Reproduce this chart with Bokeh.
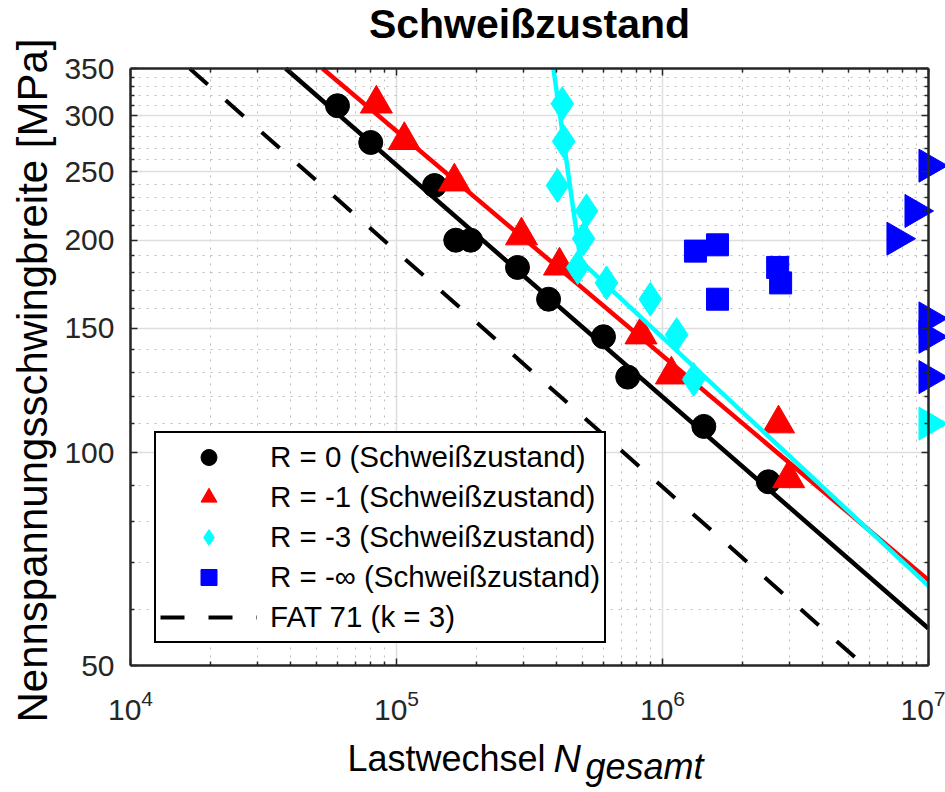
import math
from bokeh.plotting import figure
from bokeh.models import (Range1d, FixedTicker, LogAxis, PrintfTickFormatter, Label,
                          Legend, LegendItem, Grid)
from bokeh.embed import file_html
from bokeh.resources import INLINE

# ---------------- data ----------------
r0_N = [6.0e4, 8.0e4, 1.39e5, 1.67e5, 1.90e5, 2.85e5, 3.73e5, 6.0e5, 7.4e5, 1.43e6, 2.5e6]
r0_S = [310, 275, 239, 200, 200, 183, 165, 146, 128, 109, 91]

r1_N = [8.4e4, 1.07e5, 1.65e5, 2.95e5, 4.1e5, 8.3e5, 1.08e6, 2.73e6, 2.98e6]
r1_S = [312, 277, 242, 203, 184, 147, 129, 110, 92]

r3_N = [4.2e5, 4.25e5, 4.03e5, 5.18e5, 5.05e5, 4.8e5, 6.16e5, 9.0e5, 1.13e6, 1.31e6]
r3_S = [312, 276, 239, 220, 201, 183, 174, 165, 147, 127]
r3_runout_N = [1.0e7]
r3_runout_S = [110]

rinf_N = [1.33e6, 1.61e6, 2.71e6, 2.78e6, 1.61e6]
rinf_S = [193, 197, 183, 174, 165]
rinf_runout_N = [1.0e7, 8.86e6, 7.58e6, 1.0e7, 1.0e7, 1.0e7]
rinf_runout_S = [255, 220, 201, 155, 146, 128]

fit_r0_N = [3.83e4, 1.0e7]
fit_r0_S = [350, 56.4]
fit_r1_N = [5.27e4, 1.0e7]
fit_r1_S = [350, 66.0]
fit_r3_N = [3.89e5, 4.92e5, 1.0e7]
fit_r3_S = [350, 187, 64.8]
fat_N = [1.67e4, 5.73e6]
fat_S = [350, 50]

x_lim = (1e4, 1e7)
y_lim = (50, 350)
x_major = [1e4, 1e5, 1e6, 1e7]
x_minor = [2e4, 3e4, 4e4, 5e4, 6e4, 7e4, 8e4, 9e4,
           2e5, 3e5, 4e5, 5e5, 6e5, 7e5, 8e5, 9e5,
           2e6, 3e6, 4e6, 5e6, 6e6, 7e6, 8e6, 9e6]
y_major = [50, 100, 150, 200, 250, 300, 350]
y_minor = [60, 70, 80, 90, 110, 120, 130, 140, 160, 170, 180, 190,
           210, 220, 230, 240, 260, 270, 280, 290, 310, 320, 330, 340]

legend_labels = ["R = 0 (Schweißzustand)", "R = -1 (Schweißzustand)",
                 "R = -3 (Schweißzustand)", "R = -∞ (Schweißzustand)", "FAT 71 (k = 3)"]

FONT = "Liberation Sans"
AX = "#262626"

# ---------------- layout (pixel positions of the axes box on the canvas) ----------------
W, H = 945, 792
BOX_L, BOX_R, BOX_T, BOX_B = 130, 928, 68, 665
px_dec_x = (BOX_R - BOX_L) / math.log10(x_lim[1] / x_lim[0])
px_dec_y = (BOX_B - BOX_T) / math.log10(y_lim[1] / y_lim[0])
x_start = x_lim[0] / 10 ** (BOX_L / px_dec_x)
x_end = x_lim[1] * 10 ** ((W - BOX_R) / px_dec_x)
y_start = y_lim[0] / 10 ** ((H - BOX_B) / px_dec_y)
y_end = y_lim[1] * 10 ** (BOX_T / px_dec_y)

p = figure(width=W, height=H, x_axis_type="log", y_axis_type="log",
           x_range=Range1d(x_start, x_end), y_range=Range1d(y_start, y_end),
           output_backend="svg", toolbar_location=None, title=None,
           min_border_left=0, min_border_right=0, min_border_top=0, min_border_bottom=0)
p.outline_line_color = None
p.background_fill_color = "white"
p.border_fill_color = "white"

xticker = FixedTicker(ticks=x_major, minor_ticks=x_minor)
yticker = FixedTicker(ticks=y_major, minor_ticks=y_minor)


def style_axis(ax, font_size):
    ax.major_tick_in = 7
    ax.major_tick_out = 0
    ax.minor_tick_in = 4
    ax.minor_tick_out = 0
    ax.axis_line_color = AX
    ax.axis_line_width = 2.5
    ax.major_tick_line_color = AX
    ax.major_tick_line_width = 1.5
    ax.minor_tick_line_color = AX
    ax.minor_tick_line_width = 1.5
    ax.major_label_text_font = FONT
    ax.major_label_text_color = AX
    ax.major_label_text_font_size = font_size


xa = p.xaxis[0]
xa.ticker = xticker
xa.bounds = x_lim
xa.fixed_location = y_lim[0]
style_axis(xa, "30px")
xa.major_label_standoff = 24

ya = p.yaxis[0]
ya.ticker = yticker
ya.bounds = y_lim
ya.fixed_location = x_lim[0]
ya.formatter = PrintfTickFormatter(format="%d")
style_axis(ya, "30px")
ya.major_label_standoff = 16

top_ax = LogAxis(ticker=xticker, bounds=x_lim, fixed_location=y_lim[1])
style_axis(top_ax, "2px")
top_ax.major_label_text_color = None
p.add_layout(top_ax, "above")

right_ax = LogAxis(ticker=yticker, bounds=y_lim, fixed_location=x_lim[1],
                   formatter=PrintfTickFormatter(format="%d"))
style_axis(right_ax, "2px")
right_ax.major_label_text_color = None
p.add_layout(right_ax, "right")

# grids limited to the axes box
has_cross = "cross_bounds" in Grid.properties()
for g, tk, b, cb in ((p.xgrid[0], xticker, x_lim, y_lim), (p.ygrid[0], yticker, y_lim, x_lim)):
    g.ticker = tk
    g.bounds = b
    if has_cross:
        g.cross_bounds = cb
    g.grid_line_color = "#dedede"
    g.grid_line_width = 1.5
    g.minor_grid_line_color = "#bdbdbd"
    g.minor_grid_line_dash = "2 6"
    g.minor_grid_line_width = 1

# ---------------- glyphs ----------------
p.line(fit_r0_N, fit_r0_S, line_color="black", line_width=4.5)
r_c = p.scatter(r0_N, r0_S, marker="circle", size=24, fill_color="black", line_color="black")

p.line(fit_r1_N, fit_r1_S, line_color="#ff0000", line_width=4.5)
r_t = p.scatter(r1_N, r1_S, marker="triangle", size=32, fill_color="#ff0000", line_color="#ff0000")

p.line(fit_r3_N, fit_r3_S, line_color="#00ffff", line_width=4.5)
r_d = p.scatter(r3_N, r3_S, marker="diamond", size=34, fill_color="#00ffff", line_color="#00ffff")
p.scatter(r3_runout_N, r3_runout_S, marker="triangle", angle=-math.pi / 2, size=33,
          fill_color="#00ffff", line_color="#00ffff")

r_s = p.scatter(rinf_N, rinf_S, marker="square", size=22, fill_color="#0000ff", line_color="#0000ff")
p.scatter(rinf_runout_N, rinf_runout_S, marker="triangle", angle=-math.pi / 2, size=33,
          fill_color="#0000ff", line_color="#0000ff")

r_f = p.line(fat_N, fat_S, line_color="black", line_width=4, line_dash="24 24")

# ---------------- legend ----------------
legend = Legend(items=[LegendItem(label=legend_labels[0], renderers=[r_c]),
                       LegendItem(label=legend_labels[1], renderers=[r_t]),
                       LegendItem(label=legend_labels[2], renderers=[r_d]),
                       LegendItem(label=legend_labels[3], renderers=[r_s]),
                       LegendItem(label=legend_labels[4], renderers=[r_f])],
                location=(154, H - 643), orientation="vertical",
                glyph_width=97, glyph_height=40, spacing=0, padding=4, margin=0,
                label_standoff=13, label_text_font=FONT, label_text_font_size="29.5px",
                label_text_color="black",
                border_line_color="black", border_line_width=2, border_line_alpha=1.0,
                background_fill_color="white", background_fill_alpha=1.0)
p.add_layout(legend)

# ---------------- texts ----------------
SHIFT = 15  # compensation for the text anchor
p.add_layout(Label(x=529, y=H - 38 + SHIFT, x_units="screen", y_units="screen", text="Schweißzustand",
                   text_align="center", text_baseline="alphabetic", text_font=FONT,
                   text_font_size="41px", text_font_style="bold", text_color="black"))

p.add_layout(Label(x=47 - SHIFT, y=H - 380, x_units="screen", y_units="screen",
                   text="Nennspannungsschwingbreite [MPa]", angle=math.pi / 2,
                   text_align="center", text_baseline="alphabetic", text_font=FONT,
                   text_font_size="42px", text_color="black"))

p.add_layout(Label(x=347, y=H - 773 + SHIFT, x_units="screen", y_units="screen", text="Lastwechsel",
                   text_align="left", text_baseline="alphabetic", text_font=FONT,
                   text_font_size="36px", text_color="black"))
p.add_layout(Label(x=553, y=H - 773 + SHIFT, x_units="screen", y_units="screen", text="N",
                   text_align="left", text_baseline="alphabetic", text_font=FONT,
                   text_font_size="38px", text_font_style="italic", text_color="black"))
p.add_layout(Label(x=585, y=H - 781 + SHIFT, x_units="screen", y_units="screen", text="gesamt",
                   text_align="left", text_baseline="alphabetic", text_font=FONT,
                   text_font_size="36px", text_font_style="italic", text_color="black"))

open("out.html", "w").write(file_html(p, INLINE))
